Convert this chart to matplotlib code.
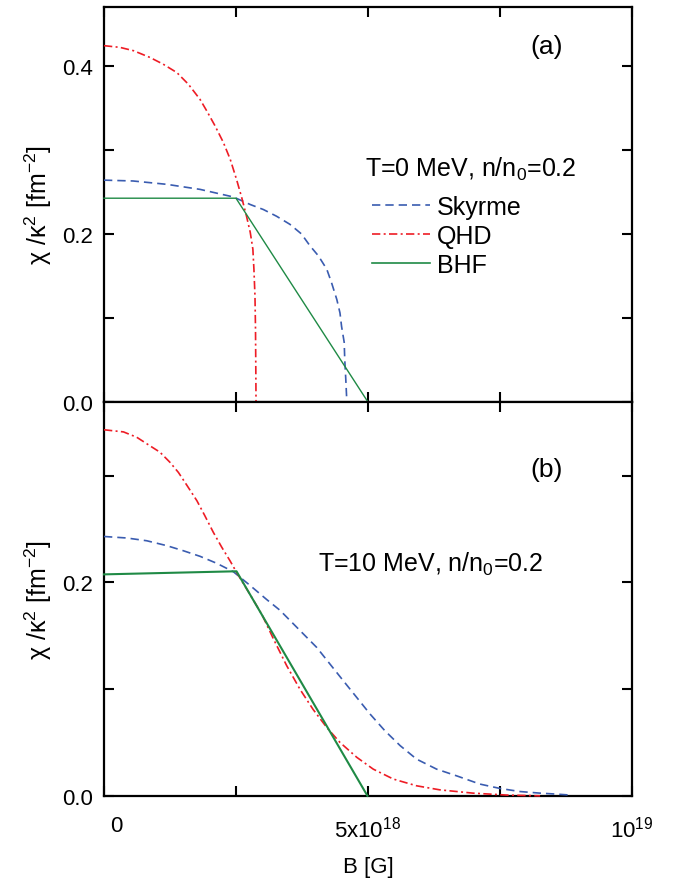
import matplotlib
matplotlib.use("Agg")
import matplotlib.pyplot as plt
import matplotlib.transforms as mtransforms
from matplotlib.lines import Line2D

plt.rcParams['font.family'] = ['Liberation Sans', 'DejaVu Sans']
plt.rcParams['mathtext.fontset'] = 'custom'
plt.rcParams['mathtext.rm'] = 'Liberation Sans'
plt.rcParams['mathtext.it'] = 'Liberation Sans:italic'

## ---------------------------- data (B in 1e18 G) ---------------------------- ##
# panel (a): T = 0 MeV
a_sky_B = [0, 0.55, 1.19, 1.82, 2.45, 2.77, 3.02, 3.27, 3.52, 3.74, 3.90, 4.06, 4.22, 4.31,
           4.41, 4.47, 4.50, 4.55, 4.56, 4.58, 4.60, 10]
a_sky_y = [0.264, 0.263, 0.259, 0.253, 0.244, 0.235, 0.229, 0.221, 0.2115, 0.200, 0.186, 0.174,
           0.158, 0.142, 0.122, 0.106, 0.090, 0.071, 0.051, 0.027, 0.0, 0.0]

a_qhd_B = [0, 0.30, 0.56, 0.87, 1.12, 1.38, 1.60, 1.82, 1.95, 2.10, 2.26, 2.39, 2.51, 2.61,
           2.70, 2.77, 2.82, 2.84, 2.86, 2.87, 2.875, 2.88, 10]
a_qhd_y = [0.424, 0.422, 0.418, 0.410, 0.402, 0.392, 0.378, 0.360, 0.346, 0.329, 0.309, 0.289,
           0.265, 0.243, 0.221, 0.202, 0.182, 0.158, 0.126, 0.087, 0.047, 0.0, 0.0]

a_bhf_B = [0, 2.5, 5.0, 10]
a_bhf_y = [0.2425, 0.2425, 0.0, 0.0]

# panel (b): T = 10 MeV
b_sky_B = [0, 0.43, 0.81, 1.19, 1.50, 1.82, 2.13, 2.45, 2.77, 3.08, 3.33, 3.71, 4.03, 4.28,
           4.53, 4.79, 5.04, 5.32, 5.61, 5.92, 6.30, 6.68, 7.12, 7.50, 7.88, 8.26, 8.57, 8.83]
b_sky_y = [0.243, 0.2416, 0.239, 0.2344, 0.2297, 0.2244, 0.218, 0.210, 0.197, 0.184, 0.174,
           0.155, 0.139, 0.1235, 0.108, 0.092, 0.0766, 0.061, 0.047, 0.0344, 0.025, 0.0187,
           0.011, 0.0069, 0.004, 0.0025, 0.0016, 0.0007]

b_qhd_B = [0, 0.37, 0.62, 0.87, 1.06, 1.25, 1.41, 1.57, 1.76, 1.91, 2.07, 2.23, 2.39, 2.51,
           2.75, 2.99, 3.21, 3.46, 3.71, 3.96, 4.22, 4.47, 4.79, 5.10, 5.48, 5.92, 6.36, 6.99,
           7.63, 8.26]
b_qhd_y = [0.343, 0.341, 0.336, 0.328, 0.322, 0.3125, 0.303, 0.291, 0.2765, 0.2625, 0.247,
           0.233, 0.220, 0.2095, 0.190, 0.170, 0.147, 0.122, 0.100, 0.081, 0.064, 0.050,
           0.036, 0.025, 0.0157, 0.0094, 0.0056, 0.0025, 0.0007, 0.0]

b_bhf_B = [0, 2.51, 4.99]
b_bhf_y = [0.2075, 0.2104, 0.0]

x_ticks = [0, 2.5, 5.0, 7.5, 10]
x_labels = ["0", "", r"5x10$^{18}$", "", r"10$^{19}$"]

c_sky = '#3a5cb0'
c_qhd = '#ee1c25'
c_bhf = '#1f8a45'
sky_dash = (5, 3)
qhd_dash = (5, 2, 1.2, 2)

fig = plt.figure(figsize=(6.73, 8.79), dpi=100)
ax1 = fig.add_axes([0.1545, 0.5415, 0.7845, 0.4494])
ax2 = fig.add_axes([0.1545, 0.0935, 0.7845, 0.448])

def scaled(B):
    return [b * 1e18 for b in B]

for ax, sky, qhd, bhf, lw_g in [
        (ax1, (a_sky_B, a_sky_y), (a_qhd_B, a_qhd_y), (a_bhf_B, a_bhf_y), 1.0),
        (ax2, (b_sky_B, b_sky_y), (b_qhd_B, b_qhd_y), (b_bhf_B, b_bhf_y), 1.5)]:
    ax.plot(scaled(sky[0]), sky[1], color=c_sky, lw=1.2, dashes=sky_dash, clip_on=False, zorder=3)
    ax.plot(scaled(qhd[0]), qhd[1], color=c_qhd, lw=1.2, dashes=qhd_dash, clip_on=False, zorder=3)
    ax.plot(scaled(bhf[0]), bhf[1], color=c_bhf, lw=lw_g, clip_on=False, zorder=3)

ax1.set_ylim(0, 0.47)
ax2.set_ylim(0, 0.369)

for ax, yt in [(ax1, [0, 0.1, 0.2, 0.3, 0.4]), (ax2, [0, 0.1, 0.2, 0.3])]:
    ax.set_xlim(0, 1e19)
    ax.set_xticks(scaled(x_ticks))
    ax.set_yticks(yt)
    ax.set_yticklabels([f"{v:.1f}" if i % 2 == 0 else "" for i, v in enumerate(yt)])
    ax.tick_params(direction='in', length=7, width=1.5, top=True, right=True,
                   labelsize=16, pad=8)
    for s in ax.spines.values():
        s.set_linewidth(1.6)
    ax.set_ylabel(r"χ /κ$^{2}$ [fm$^{-2}$]", fontsize=18)
    ax.yaxis.set_label_coords(-0.095, 0.5)

ax1.set_xticklabels([])
ax2.set_xticklabels(x_labels)
ax2.tick_params(axis='x', pad=14)
# the "0" label sits a bit right of the axis in the original
off = mtransforms.ScaledTranslation(12 / 100, 0, fig.dpi_scale_trans)
lbl0 = ax2.get_xticklabels()[0]
lbl0.set_transform(lbl0.get_transform() + off)

ax2.set_xlabel("B [G]", fontsize=16)
ax2.xaxis.set_label_coords(0.5, -0.152)

ax1.text(0.839, 0.901, "(a)", transform=ax1.transAxes, fontsize=19, ha='center', va='center')
ax2.text(0.839, 0.830, "(b)", transform=ax2.transAxes, fontsize=19, ha='center', va='center')
ax1.text(0.494, 0.572, r"T=0 MeV, n/n$_0$=0.2", transform=ax1.transAxes, fontsize=18, va='baseline')
ax2.text(0.405, 0.571, r"T=10 MeV, n/n$_0$=0.2", transform=ax2.transAxes, fontsize=18, va='baseline')

handles = [Line2D([], [], color=c_sky, lw=1.2, dashes=sky_dash),
           Line2D([], [], color=c_qhd, lw=1.2, dashes=qhd_dash),
           Line2D([], [], color=c_bhf, lw=1.2)]
ax1.legend(handles, ["Skyrme", "QHD", "BHF"], loc='upper left',
           bbox_to_anchor=(0.508, 0.525), frameon=False, fontsize=18,
           handlelength=2.3, handletextpad=0.3, labelspacing=0.21,
           borderpad=0, borderaxespad=0)

plt.savefig("out.png", dpi=100)
